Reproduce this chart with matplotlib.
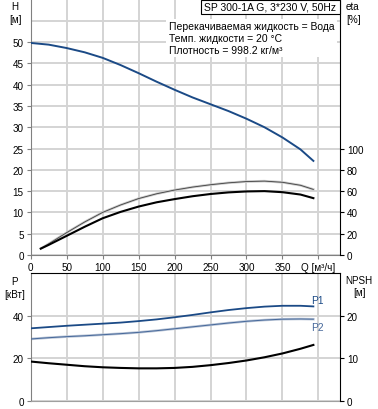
import matplotlib
matplotlib.use('Agg')
import matplotlib.pyplot as plt
from matplotlib.patches import Rectangle

plt.rcParams['font.family'] = ['Liberation Sans', 'DejaVu Sans']

# pump head curve H(Q)
q_h = [0, 25, 50, 75, 100, 125, 150, 175, 200, 225, 250, 275, 300, 325, 350, 375, 393]
head = [49.8, 49.4, 48.6, 47.6, 46.3, 44.6, 42.7, 40.7, 38.8, 37.0, 35.4, 33.8, 32.0, 30.0, 27.6, 24.8, 22.1]

# efficiencies (%)
q_eta = [14, 25, 50, 75, 100, 125, 150, 175, 200, 225, 250, 275, 300, 325, 350, 375, 393]
eta_pump = [6, 10.5, 21, 31, 40, 47, 53, 57.5, 61, 63.8, 66, 67.8, 69, 69.4, 68.3, 65.5, 61.6]
eta_total = [6, 9.5, 18, 26.5, 34.5, 40.5, 45.5, 49.5, 52.5, 55.2, 57.3, 58.8, 59.7, 60, 59, 56.8, 53.4]

# power (kW) and NPSH (m)
q_p = [0, 25, 50, 75, 100, 125, 150, 175, 200, 225, 250, 275, 300, 325, 350, 375, 393]
p1 = [34.0, 34.6, 35.2, 35.7, 36.2, 36.7, 37.4, 38.2, 39.2, 40.3, 41.5, 42.6, 43.5, 44.2, 44.6, 44.6, 44.3]
p2 = [29.0, 29.6, 30.1, 30.5, 31.0, 31.5, 32.1, 32.9, 33.8, 34.7, 35.6, 36.5, 37.3, 37.9, 38.3, 38.4, 38.3]
npsh = [9.2, 8.8, 8.45, 8.1, 7.85, 7.7, 7.6, 7.6, 7.7, 7.95, 8.35, 8.85, 9.45, 10.2, 11.1, 12.2, 13.1]

x_ticks = [0, 50, 100, 150, 200, 250, 300, 350, 400]
x_labels = ['0', '50', '100', '150', '200', '250', '300', '350', 'Q [м³/ч]']

W, H = 378, 410
FS = 7.1
GRID = '#d4d4d4'
BLUE = '#1b4a86'
BLUE2 = '#46689a'


def box(l, t, r, b):
    return [l / W, 1 - b / H, (r - l) / W, (b - t) / H]


def fx(x):
    return x / W


def fy(y):
    return 1 - y / H


fig = plt.figure(figsize=(W / 100, H / 100), dpi=100)

# ---- top panel: H and eta ----
ax = fig.add_axes(box(30.7, 0.5, 340, 256))
ax.set_xlim(0, 430)
ax.set_ylim(0, 60)
ax.set_xticks(x_ticks)
ax.set_xticklabels(x_labels)
ax.set_yticks(range(0, 51, 5))
ax.grid(True, color=GRID, lw=1.4)
ax.axhline(55, color=GRID, lw=1.4, zorder=0.5)
ax.set_axisbelow(True)
ax.tick_params(labelsize=FS, length=3, width=0.8, color='#808080', pad=2)
ax.spines['top'].set_visible(False)
ax.spines['left'].set_color('#808080')
ax.spines['bottom'].set_color('#808080')
ax.spines['right'].set_visible(False)

ax.plot(q_h, head, color=BLUE, lw=1.4, zorder=3)

ax2 = ax.twinx()
ax2.set_ylim(0, 240)
ax2.set_yticks(range(0, 101, 20))
ax2.tick_params(labelsize=FS, length=3, width=0.8, pad=2)
for s in ['top', 'left', 'bottom']:
    ax2.spines[s].set_visible(False)
ax2.spines['right'].set_color('black')
ax2.plot(q_eta, eta_pump, color='#c8c8c8', lw=1.8, zorder=2)
ax2.plot(q_eta, eta_pump, color='#404040', lw=0.6, zorder=3)
ax2.plot(q_eta, eta_total, color='black', lw=1.5, zorder=3)

# ---- bottom panel: P and NPSH ----
axb = fig.add_axes(box(30.7, 274, 340, 401.7))
axb.set_xlim(0, 430)
axb.set_ylim(0, 60)
axb.set_xticks(x_ticks[1:])
axb.set_yticks([0, 20, 40])
axb.grid(True, color=GRID, lw=1.4)
axb.set_axisbelow(True)
axb.tick_params(axis='x', length=0, labelbottom=False)
axb.tick_params(axis='y', labelsize=FS, length=3, width=0.8, color='#808080', pad=2)
axb.spines['top'].set_color('black')
axb.spines['left'].set_color('#808080')
axb.spines['bottom'].set_color('#a0a0a0')
axb.spines['right'].set_visible(False)
axb.plot(q_p, p1, color=BLUE, lw=1.3, zorder=3)
axb.plot(q_p, p2, color='#b8c4d6', lw=1.8, zorder=2)
axb.plot(q_p, p2, color=BLUE2, lw=0.7, zorder=3)

axb2 = axb.twinx()
axb2.set_ylim(0, 30)
axb2.set_yticks([0, 10, 20])
axb2.tick_params(labelsize=FS, length=3, width=0.8, pad=2)
for s in ['top', 'left', 'bottom']:
    axb2.spines[s].set_visible(False)
axb2.spines['right'].set_color('black')
axb2.plot(q_p, npsh, color='black', lw=1.5, zorder=3)

fig.text(fx(311), fy(301), 'P1', color=BLUE, fontsize=FS + 0.3, ha='left', va='center')
fig.text(fx(311), fy(328), 'P2', color=BLUE2, fontsize=FS + 0.3, ha='left', va='center')

# ---- axis titles ----
fig.text(fx(15), fy(7), 'H', fontsize=FS, ha='center', va='center')
fig.text(fx(15), fy(20), '[м]', fontsize=FS, ha='center', va='center')
fig.text(fx(346), fy(7), 'eta', fontsize=FS, ha='left', va='center')
fig.text(fx(346), fy(20), '[%]', fontsize=FS, ha='left', va='center')
fig.text(fx(15), fy(282), 'P', fontsize=FS, ha='center', va='center')
fig.text(fx(15), fy(295), '[кВт]', fontsize=FS, ha='center', va='center')
fig.text(fx(359), fy(281), 'NPSH', fontsize=FS, ha='center', va='center')
fig.text(fx(359), fy(293), '[м]', fontsize=FS, ha='center', va='center')

# ---- title box and fluid info ----
fig.patches.append(Rectangle((fx(200.7), fy(15)), (340 - 200.7) / W, 14.5 / H,
                             transform=fig.transFigure, fill=True, facecolor='white',
                             edgecolor='black', lw=0.8, zorder=5))
fig.text(fx(204), fy(8), 'SP 300-1A G, 3*230 V, 50Hz', fontsize=FS + 0.4,
         ha='left', va='center', zorder=6)
fig.text(fx(169), fy(39), 'Перекачиваемая жидкость = Вода\nТемп. жидкости = 20 °C\nПлотность = 998.2 кг/м³',
         fontsize=FS + 0.4, ha='left', va='center', linespacing=1.2, zorder=6,
         bbox=dict(facecolor='white', edgecolor='none', pad=2))

fig.savefig('out.png', dpi=100)
